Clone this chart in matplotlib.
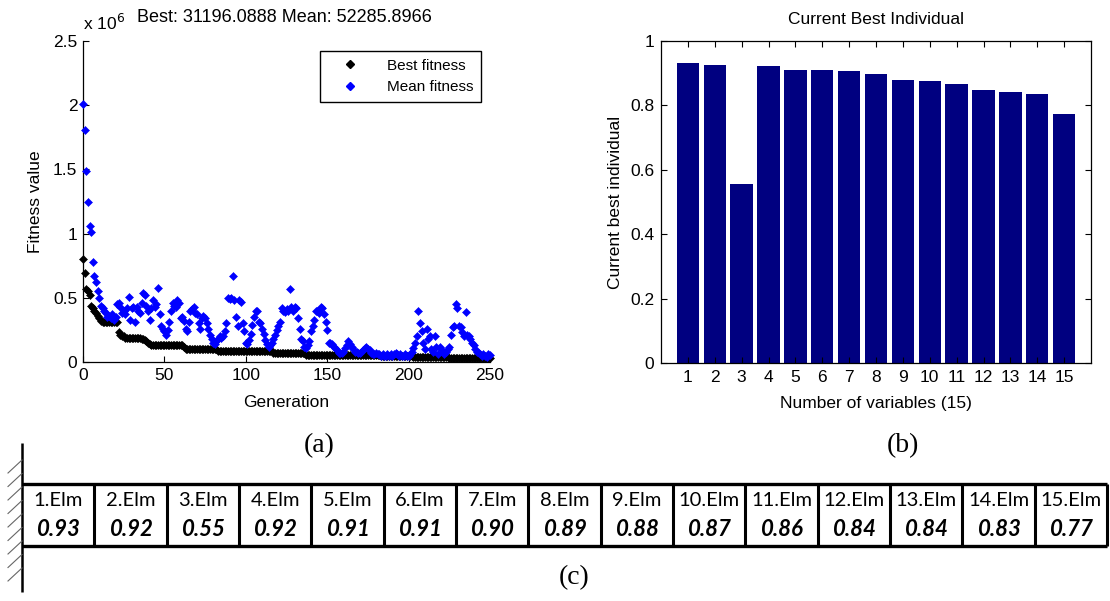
import math
import matplotlib
matplotlib.use("Agg")
import matplotlib.pyplot as plt
from matplotlib.lines import Line2D

# ---------------- data ----------------
generations = list(range(0, 251))

# best fitness per generation (x 1e6)
best_fitness = [
    0.80, 0.69, 0.57, 0.55, 0.52, 0.44, 0.42, 0.40, 0.38, 0.36,
    0.34, 0.32, 0.31, 0.31, 0.31, 0.31, 0.31, 0.31, 0.31, 0.31,
    0.31, 0.31, 0.23, 0.21, 0.20, 0.20, 0.19, 0.19, 0.19, 0.185,
    0.185, 0.185, 0.185, 0.185, 0.185, 0.185, 0.18, 0.18, 0.17, 0.16,
    0.15, 0.14, 0.13, 0.13, 0.13, 0.13, 0.13, 0.13, 0.13, 0.13,
    0.13, 0.13, 0.13, 0.13, 0.13, 0.13, 0.13, 0.13, 0.13, 0.13,
    0.13, 0.13, 0.12, 0.105, 0.105, 0.105, 0.105, 0.105, 0.105, 0.105,
    0.105, 0.105, 0.105, 0.105, 0.105, 0.105, 0.105, 0.105, 0.105, 0.105,
    0.105, 0.105, 0.105, 0.085, 0.085, 0.085, 0.085, 0.085, 0.085, 0.085,
    0.085, 0.085, 0.085, 0.085, 0.085, 0.085, 0.085, 0.085, 0.085, 0.085,
    0.085, 0.085, 0.085, 0.085, 0.085, 0.085, 0.085, 0.085, 0.085, 0.085,
    0.085, 0.085, 0.085, 0.085, 0.085, 0.085, 0.085, 0.07, 0.07, 0.07,
    0.07, 0.07, 0.07, 0.07, 0.07, 0.07, 0.07, 0.07, 0.07, 0.07,
    0.07, 0.07, 0.07, 0.07, 0.07, 0.07, 0.07, 0.055, 0.055, 0.055,
    0.055, 0.055, 0.055, 0.055, 0.055, 0.055, 0.055, 0.055, 0.055, 0.055,
    0.055, 0.055, 0.055, 0.055, 0.055, 0.055, 0.055, 0.055, 0.055, 0.055,
    0.055, 0.055, 0.055, 0.055, 0.055, 0.055, 0.055, 0.055, 0.055, 0.055,
    0.055, 0.055, 0.055, 0.055, 0.055, 0.055, 0.055, 0.055, 0.055, 0.055,
    0.055, 0.055, 0.055, 0.048, 0.048, 0.048, 0.048, 0.048, 0.048, 0.048,
    0.048, 0.048, 0.048, 0.048, 0.048, 0.048, 0.048, 0.048, 0.048, 0.048,
    0.048, 0.048, 0.048, 0.04, 0.04, 0.04, 0.04, 0.04, 0.04, 0.04,
    0.04, 0.04, 0.04, 0.04, 0.04, 0.04, 0.04, 0.04, 0.04, 0.04,
    0.04, 0.04, 0.04, 0.04, 0.04, 0.031, 0.031, 0.031, 0.031, 0.031,
    0.031, 0.031, 0.031, 0.031, 0.031, 0.031, 0.031, 0.031, 0.031, 0.031,
    0.031, 0.031, 0.031, 0.031, 0.031, 0.031, 0.031, 0.031, 0.031, 0.031,
    0.0311960888,
]

# mean fitness per generation (x 1e6)
mean_fitness = [
    2.01, 1.81, 1.49, 1.25, 1.06, 1.01, 0.78, 0.67, 0.62, 0.55,
    0.50, 0.44, 0.42, 0.40, 0.38, 0.35, 0.36, 0.34, 0.37, 0.33,
    0.35, 0.45, 0.46, 0.43, 0.38, 0.40, 0.37, 0.42, 0.51, 0.33,
    0.42, 0.43, 0.31, 0.43, 0.40, 0.38, 0.46, 0.54, 0.52, 0.44,
    0.40, 0.33, 0.42, 0.48, 0.43, 0.45, 0.58, 0.37, 0.28, 0.26,
    0.24, 0.21, 0.25, 0.31, 0.40, 0.46, 0.44, 0.43, 0.48, 0.46,
    0.34, 0.35, 0.32, 0.26, 0.24, 0.31, 0.40, 0.41, 0.43, 0.38,
    0.37, 0.30, 0.26, 0.34, 0.36, 0.34, 0.30, 0.26, 0.21, 0.18,
    0.15, 0.14, 0.16, 0.18, 0.20, 0.19, 0.20, 0.24, 0.30, 0.50,
    0.49, 0.50, 0.67, 0.48, 0.35, 0.28, 0.48, 0.47, 0.30, 0.24,
    0.15, 0.14, 0.17, 0.22, 0.29, 0.35, 0.40, 0.40, 0.31, 0.30,
    0.26, 0.22, 0.17, 0.14, 0.12, 0.13, 0.15, 0.18, 0.21, 0.25,
    0.28, 0.31, 0.42, 0.40, 0.39, 0.41, 0.40, 0.57, 0.43, 0.40,
    0.43, 0.42, 0.34, 0.26, 0.18, 0.16, 0.12, 0.11, 0.13, 0.16,
    0.24, 0.28, 0.33, 0.40, 0.40, 0.38, 0.43, 0.42, 0.37, 0.31,
    0.25, 0.15, 0.15, 0.14, 0.12, 0.11, 0.09, 0.07, 0.07, 0.07,
    0.08, 0.11, 0.13, 0.16, 0.14, 0.12, 0.10, 0.08, 0.08, 0.07,
    0.07, 0.08, 0.09, 0.11, 0.12, 0.10, 0.09, 0.07, 0.06, 0.06,
    0.07, 0.06, 0.06, 0.05, 0.06, 0.05, 0.05, 0.06, 0.05, 0.06,
    0.05, 0.06, 0.07, 0.06, 0.05, 0.06, 0.05, 0.05, 0.06, 0.05,
    0.05, 0.06, 0.08, 0.11, 0.15, 0.20, 0.40, 0.30, 0.24, 0.15,
    0.10, 0.26, 0.18, 0.20, 0.10, 0.08, 0.20, 0.12, 0.06, 0.12,
    0.10, 0.08, 0.06, 0.08, 0.10, 0.12, 0.21, 0.27, 0.28, 0.45,
    0.42, 0.28, 0.27, 0.23, 0.20, 0.39, 0.21, 0.20, 0.18, 0.15,
    0.13, 0.10, 0.08, 0.07, 0.06, 0.05, 0.06, 0.05, 0.04, 0.06,
    0.0522858966,
]

fitness_ticks = [0, 0.5, 1, 1.5, 2, 2.5]
fitness_tick_labels = ["0", "0.5", "1", "1.5", "2", "2.5"]
generation_ticks = [0, 50, 100, 150, 200, 250]

variables = [1, 2, 3, 4, 5, 6, 7, 8, 9, 10, 11, 12, 13, 14, 15]
best_individual = [0.931, 0.924, 0.557, 0.921, 0.911, 0.911, 0.906, 0.898,
                   0.880, 0.876, 0.866, 0.848, 0.843, 0.834, 0.772]
individual_ticks = [0, 0.2, 0.4, 0.6, 0.8, 1]
individual_tick_labels = ["0", "0.2", "0.4", "0.6", "0.8", "1"]

element_names = ["1.Elm", "2.Elm", "3.Elm", "4.Elm", "5.Elm", "6.Elm", "7.Elm",
                 "8.Elm", "9.Elm", "10.Elm", "11.Elm", "12.Elm", "13.Elm",
                 "14.Elm", "15.Elm"]

# ---------------- figure ----------------
W, H = 1110, 601
fig = plt.figure(figsize=(W / 100, H / 100), dpi=100)
fig.patch.set_facecolor("white")

SANS = ["Liberation Sans", "DejaVu Sans"]
TICK_FS = 12.5
LABEL_FS = 12.5
MS = 4.0


def px_axes(x0, y0, x1, y1):
    return fig.add_axes([x0 / W, 1 - y1 / H, (x1 - x0) / W, (y1 - y0) / H])


# pixel-space overlay for free text and the element strip
axc = fig.add_axes([0, 0, 1, 1], zorder=-1)
axc.set_xlim(0, W)
axc.set_ylim(H, 0)
axc.axis("off")

# ---- (a) fitness history ----
ax1 = px_axes(83, 41, 490, 362)
ax1.plot(generations, best_fitness, linestyle="none", marker="D", ms=MS,
         color="black", mec="black", mew=0.4, clip_on=False, zorder=3)
ax1.plot(generations, mean_fitness, linestyle="none", marker="D", ms=MS,
         color="#0000ff", mec="#0000ff", mew=0.4, clip_on=False, zorder=3)
ax1.set_xlim(0, 250)
ax1.set_ylim(0, 2.5)
ax1.set_xticks(generation_ticks)
ax1.set_xticklabels([str(g) for g in generation_ticks])
ax1.set_yticks(fitness_ticks)
ax1.set_yticklabels(fitness_tick_labels)
for s in ("top", "right"):
    ax1.spines[s].set_visible(False)
for s in ("left", "bottom"):
    ax1.spines[s].set_linewidth(0.9)
ax1.tick_params(direction="in", length=4, width=0.8, labelsize=TICK_FS, pad=4)
for lab in ax1.get_xticklabels() + ax1.get_yticklabels():
    lab.set_fontfamily(SANS)
ax1.set_xlabel("Generation", fontsize=LABEL_FS, family=SANS, labelpad=9)
ax1.set_ylabel("Fitness value", fontsize=LABEL_FS, family=SANS, labelpad=7)
axc.text(284, 18, "Best: %.4f Mean: %.4f" % (best_fitness[-1] * 1e6, mean_fitness[-1] * 1e6),
         fontsize=13, family=SANS, ha="center", va="center")
ax1.text(0.0, 1.025, r"x 10$^{6}$", transform=ax1.transAxes, fontsize=TICK_FS,
         family=SANS, ha="left", va="bottom")

handles = [
    Line2D([], [], linestyle="none", marker="D", ms=MS, color="black"),
    Line2D([], [], linestyle="none", marker="D", ms=MS, color="#0000ff"),
]
leg = ax1.legend(handles, ["Best fitness", "Mean fitness"], loc="upper right",
                 bbox_to_anchor=(0.978, 0.969), frameon=True, fancybox=False,
                 edgecolor="black", framealpha=1, prop={"family": SANS, "size": 11},
                 handlelength=3.0, handletextpad=0.9, borderpad=0.5,
                 labelspacing=0.5, borderaxespad=0)
leg.get_frame().set_linewidth(1.0)

# ---- (b) current best individual ----
ax2 = px_axes(661, 41, 1091, 363)
ax2.bar(variables, best_individual, width=0.83, color="#000080", edgecolor="none")
ax2.set_xlim(0, 16)
ax2.set_ylim(0, 1)
ax2.set_xticks(variables)
ax2.set_xticklabels([str(v) for v in variables])
ax2.set_yticks(individual_ticks)
ax2.set_yticklabels(individual_tick_labels)
for s in ax2.spines.values():
    s.set_linewidth(0.9)
ax2.tick_params(direction="in", length=4, width=0.8, labelsize=TICK_FS, pad=5,
                top=True, right=True)
for lab in ax2.get_xticklabels() + ax2.get_yticklabels():
    lab.set_fontfamily(SANS)
ax2.set_xlabel("Number of variables (15)", fontsize=LABEL_FS, family=SANS, labelpad=8)
ax2.set_ylabel("Current best individual", fontsize=LABEL_FS, family=SANS, labelpad=5)
ax2.set_title("Current Best Individual", fontsize=LABEL_FS, family=SANS, pad=12)

# ---- (c) cantilever of elements ----
SERIF = ["Liberation Serif", "DejaVu Serif"]
axc.text(319, 446, "(a)", fontsize=20, family=SERIF, ha="center", va="center")
axc.text(903, 446, "(b)", fontsize=20, family=SERIF, ha="center", va="center")
axc.text(574, 578, "(c)", fontsize=20, family=SERIF, ha="center", va="center")

x_left, x_right = 22, 1107
y_top, y_bot = 484, 546
n = len(element_names)
cell_w = (x_right - x_left) / n

# fixed support
axc.plot([x_left, x_left], [443, 592], color="black", lw=1.8, solid_capstyle="butt")
for k in range(9):
    yk = 460 + 13.5 * k
    axc.plot([x_left, 8], [yk, yk + 13], color="#666666", lw=0.8)

# element strip
axc.plot([x_left, x_right], [y_top, y_top], color="black", lw=2.4, solid_capstyle="butt")
axc.plot([x_left, x_right], [y_bot, y_bot], color="black", lw=2.4, solid_capstyle="butt")
for k in range(1, n + 1):
    xk = x_left + k * cell_w
    axc.plot([xk, xk], [y_top, y_bot], color="black", lw=2.2, solid_capstyle="butt")

CELL_FONT = ["Lato", "DejaVu Sans"]
for i, (name, val) in enumerate(zip(element_names, best_individual)):
    cx = x_left + (i + 0.5) * cell_w
    axc.text(cx, 500, name, fontsize=14.5, family=CELL_FONT, ha="center", va="center")
    axc.text(cx + 1, 530, "%.2f" % (math.floor(val * 100) / 100), fontsize=16,
             family=CELL_FONT, fontweight="bold", fontstyle="italic",
             ha="center", va="center")

fig.savefig("out.png", dpi=100, facecolor="white")
